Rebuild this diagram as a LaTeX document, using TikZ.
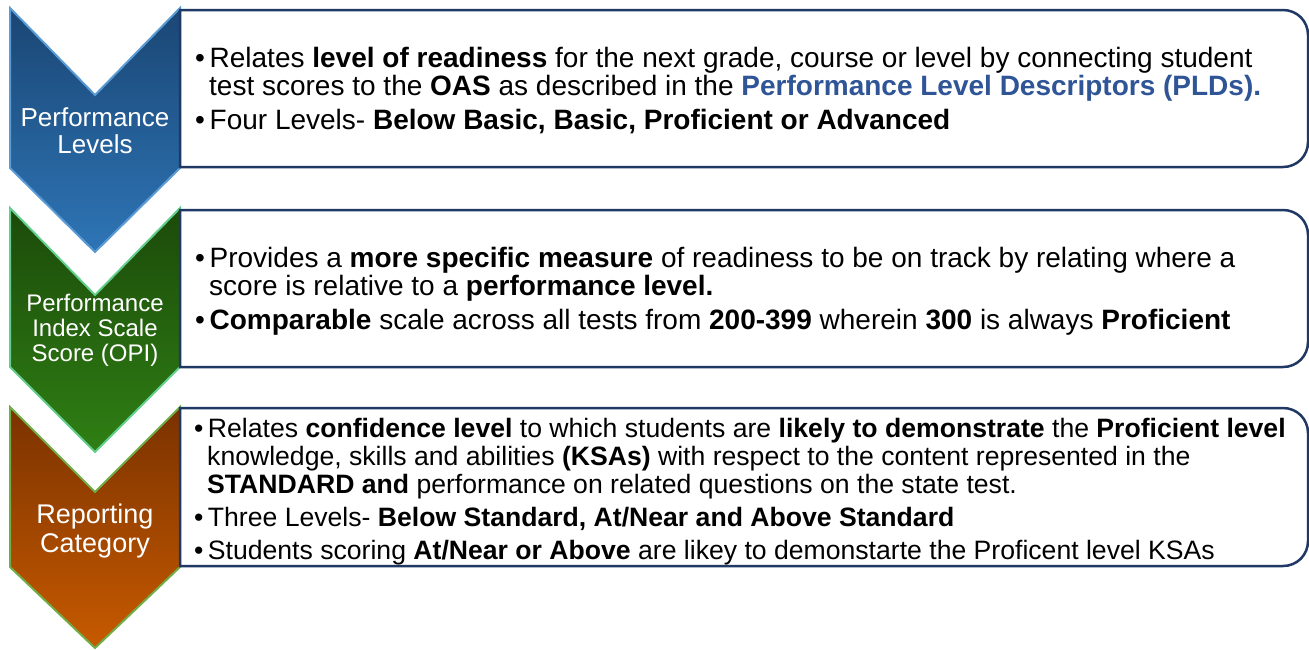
\documentclass[tikz,border=0pt]{standalone}
\usepackage{fontspec}
\setmainfont{Liberation Sans}
\definecolor{navy}{HTML}{1F3864}
\definecolor{pldblue}{HTML}{2F5597}
\definecolor{blueA}{HTML}{1A4674}
\definecolor{blueB}{HTML}{2E75B6}
\definecolor{blueE}{HTML}{5B9BD5}
\definecolor{greenA}{HTML}{1C4A0A}
\definecolor{greenB}{HTML}{2F7F14}
\definecolor{greenE}{HTML}{63CF8E}
\definecolor{orangeA}{HTML}{7A3200}
\definecolor{orangeB}{HTML}{C75A00}
\definecolor{orangeE}{HTML}{70AD47}
\begin{document}
\begin{tikzpicture}[x=1pt,y=-1pt,
  txt/.style={anchor=base west, inner sep=0pt, font=\fontsize{28}{28}\selectfont},
  txtc/.style={anchor=base west, inner sep=0pt, font=\fontsize{26.6}{28}\selectfont},
  lab/.style={text=white, align=center, inner sep=0pt},
  boxline/.style={draw=navy, line width=2.5pt, fill=white},
  chev/.style={line width=2pt, shading angle=45}]
\useasboundingbox (0,0) rectangle (1309,649);
% chevrons
\shadedraw[chev, draw=blueE, top color=blueA, bottom color=blueB]
  (10,8) -- (95,95) -- (180,8) -- (180,168) -- (95,252) -- (10,168) -- cycle;
\shadedraw[chev, draw=greenE, top color=greenA, bottom color=greenB]
  (10,208) -- (95,295) -- (180,208) -- (180,367) -- (95,452) -- (10,367) -- cycle;
\shadedraw[chev, draw=orangeE, top color=orangeA, bottom color=orangeB]
  (10,407) -- (95,492) -- (180,407) -- (180,567) -- (95,648) -- (10,567) -- cycle;
% boxes
\draw[boxline] (180,10) -- (1283,10) .. controls (1297,10) and (1308,21) .. (1308,35)
  -- (1308,142) .. controls (1308,156) and (1297,167) .. (1283,167) -- (180,167) -- cycle;
\draw[boxline] (180,210) -- (1283,210) .. controls (1297,210) and (1308,221) .. (1308,235)
  -- (1308,342) .. controls (1308,356) and (1297,367) .. (1283,367) -- (180,367) -- cycle;
\draw[boxline] (180,408) -- (1283,408) .. controls (1297,408) and (1308,419) .. (1308,433)
  -- (1308,541) .. controls (1308,555) and (1297,566) .. (1283,566) -- (180,566) -- cycle;
% chevron labels
\node[lab, font=\fontsize{26}{27}\selectfont] (l1) at (95,131) {Performance\\Levels};
\node[lab, font=\fontsize{24}{25}\selectfont] (l2) at (95,330) {Performance\\Index Scale\\Score (OPI)};
\node[lab, font=\fontsize{27}{29}\selectfont] (l3) at (95,531) {Reporting\\Category};
% box 1
\node[txt] (b1a) at (195,67) {\textbullet\,Relates \textbf{level of readiness} for the next grade, course or level by connecting student};
\node[txt] (b1b) at (209,95) {test scores to the \textbf{OAS} as described in the \textcolor{pldblue}{\textbf{Performance Level Descriptors (PLDs).}}};
\node[txt] (b1c) at (195,129) {\textbullet\,Four Levels- \textbf{Below Basic, Basic, Proficient or Advanced}};
% box 2
\node[txt] (b2a) at (195,267) {\textbullet\,Provides a \textbf{more specific measure} of readiness to be on track by relating where a};
\node[txt] (b2b) at (209,295) {score is relative to a \textbf{performance level.}};
\node[txt] (b2c) at (195,329) {\textbullet\,\textbf{Comparable} scale across all tests from \textbf{200-399} wherein \textbf{300} is always \textbf{Proficient}};
% box 3
\node[txtc] (b3a) at (194,437) {\textbullet\,Relates \textbf{confidence level} to which students are \textbf{likely to demonstrate} the \textbf{Proficient level}};
\node[txtc] (b3b) at (207,465) {knowledge, skills and abilities \textbf{(KSAs)} with respect to the content represented in the};
\node[txtc] (b3c) at (207,493) {\textbf{STANDARD and} performance on related questions on the state test.};
\node[txtc] (b3d) at (194,526) {\textbullet\,Three Levels- \textbf{Below Standard, At/Near and Above Standard}};
\node[txtc] (b3e) at (194,559) {\textbullet\,Students scoring \textbf{At/Near or Above} are likey to demonstarte the Proficent level KSAs};
\end{tikzpicture}
\end{document}
